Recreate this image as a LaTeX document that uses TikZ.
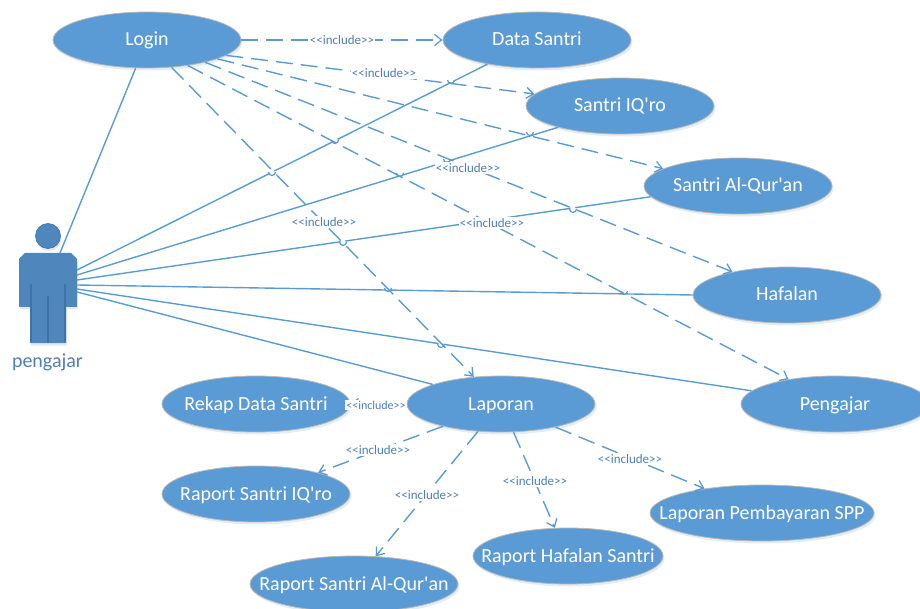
\documentclass[tikz,border=0pt]{standalone}
\usepackage{fontspec}
\setmainfont{Carlito}
\usetikzlibrary{shapes.geometric,shadows,arrows.meta}
\definecolor{ucfill}{HTML}{5B9BD5}
\definecolor{ucedge}{HTML}{BDB8B0}
\definecolor{actorfill}{HTML}{4F86BC}
\definecolor{actorline}{HTML}{3F72A5}
\definecolor{lbl}{HTML}{4F7FB5}
\tikzset{
  usecase/.style={ellipse,fill=ucfill,draw=ucedge,line width=.8pt,minimum width=188pt,minimum height=56pt,inner sep=-60pt,text=white,font=\fontsize{20}{22}\selectfont,text height=16pt,text depth=4pt,
    drop shadow={shadow xshift=1.5pt,shadow yshift=-2.5pt,opacity=.18,fill=ucfill}},
  assoc/.style={draw=ucfill,line width=1.4pt},
  incl/.style={draw=ucfill,line width=1.4pt,dash pattern=on 17pt off 8pt,-{Straight Barb[length=7pt,width=11pt,line width=1.3pt]}},
  incllabel/.style={fill=white,text=lbl,inner sep=1pt,font=\fontsize{13}{15}\selectfont},
  jumparc/.style={draw=ucfill,line width=1.2pt},
  actorpart/.style={fill=actorfill,draw=none,
    drop shadow={shadow xshift=1pt,shadow yshift=-2.5pt,opacity=.18,fill=actorfill}},
  actorvein/.style={draw=actorline,line width=1.1pt}
}
\newcommand{\whitespot}[2]{\fill[white] (#1,#2) circle (2.6pt);}
\newcommand{\jumpat}[2]{\draw[jumparc] (#1-3.5,#2) arc (180:360:3.5pt);}
\newcommand{\inc}{<{}<include>{}>}
\begin{document}
\begin{tikzpicture}[x=1pt,y=-1pt]
\useasboundingbox (0,0) rectangle (920,609);
% actor
\node[circle,minimum size=25pt,inner sep=0pt,actorpart,draw=actorline,line width=.6pt] (head) at (48,236) {};
\path[actorpart] (25,253) -- (71,253) -- (77,259) -- (77,307) -- (66,307) -- (66,343) -- (30,343) -- (30,307) -- (19,307) -- (19,259) -- cycle;
\draw[actorvein] (31,284) -- (31,342) (65,284) -- (65,342) (48,296) -- (48,343);
\node[inner sep=0pt,minimum width=58pt,minimum height=90pt] (actor) at (48,298) {};
\node[text=lbl,font=\fontsize{20}{22}\selectfont] (actorname) at (47.5,362) {pengajar};
\coordinate (a0) at (60,253);
\coordinate (a1) at (77,270);
\coordinate (a2) at (77,275);
\coordinate (a3) at (77,280);
\coordinate (a4) at (77,285);
\coordinate (a5) at (77,289);
\coordinate (a6) at (77,292);
% use cases
\node[usecase] (login) at (147,40) {Login};
\node[usecase] (data) at (537,40) {Data Santri};
\node[usecase] (iqro) at (620,106) {Santri IQ\textquotesingle ro};
\node[usecase] (quran) at (738,186) {Santri Al-Qur\textquotesingle an};
\node[usecase] (hafalan) at (787,295) {Hafalan};
\node[usecase] (pengajar) at (835,404) {Pengajar};
\node[usecase] (laporan) at (501,404) {Laporan};
\node[usecase] (rekap) at (256,404) {Rekap Data Santri};
\node[usecase] (riqro) at (256,494) {Raport Santri IQ\textquotesingle ro};
\node[usecase,minimum width=208pt] (rquran) at (354,584) {Raport Santri Al-Qur\textquotesingle an};
\node[usecase,minimum width=190pt] (rhafalan) at (568,556) {Raport Hafalan Santri};
\node[usecase,minimum width=224pt] (spp) at (762,513) {Laporan Pembayaran SPP};
% associations
\draw[assoc] (a0) -- (login.248);
\draw[assoc] (a1) -- (data.206);
\draw[assoc] (a2) -- (iqro.199);
\draw[assoc] (a3) -- (quran.187.5);
\draw[assoc] (a4) -- (hafalan.180);
\draw[assoc] (a5) -- (pengajar.171.8);
\draw[assoc] (a6) -- (laporan.164.5);
% gaps under the jumps
\whitespot{272}{172}\whitespot{335}{140}\whitespot{400}{173}\whitespot{447}{159}\whitespot{343}{242}\whitespot{388}{288}\whitespot{441}{344}\whitespot{573}{209}\whitespot{624}{291}\whitespot{451}{80}\whitespot{530}{132}
% includes
\draw[incl] (login.0) -- (data.180);
\draw[incl] (login.-11.3) -- (iqro.172);
\draw[incl] (login.-15.7) -- (quran.167.6);
\draw[incl] (login.-21.6) -- (hafalan.157.3);
\draw[incl] (login.-32) -- (pengajar.152.4);
\draw[incl] (login.-48.5) -- (laporan.135);
\draw[incl] (laporan.180) -- (rekap.0);
\draw[incl] (laporan.201) -- (riqro.19.6);
\draw[incl] (laporan.230.6) -- (rquran.52);
\draw[incl] (laporan.294) -- (rhafalan.115);
\draw[incl] (laporan.337.7) -- (spp.157.9);
% jumps
\jumpat{272}{172}\jumpat{335}{140}\jumpat{400}{173}\jumpat{447}{159}\jumpat{343}{242}\jumpat{388}{288}\jumpat{441}{344}\jumpat{573}{209}\jumpat{624}{291}\jumpat{451}{80}\jumpat{530}{132}
% labels
\node[incllabel] (l1) at (342,40) {\inc};
\node[incllabel] (l2) at (384,73) {\inc};
\node[incllabel] (l3) at (468,168) {\inc};
\node[incllabel] (l4) at (324,222) {\inc};
\node[incllabel] (l5) at (492,223) {\inc};
\node[incllabel,font=\fontsize{12}{14}\selectfont] (l6) at (376,405) {\inc};
\node[incllabel] (l7) at (378,450) {\inc};
\node[incllabel] (l8) at (427,495) {\inc};
\node[incllabel] (l9) at (535,481) {\inc};
\node[incllabel] (l10) at (630,459) {\inc};
\end{tikzpicture}
\end{document}
